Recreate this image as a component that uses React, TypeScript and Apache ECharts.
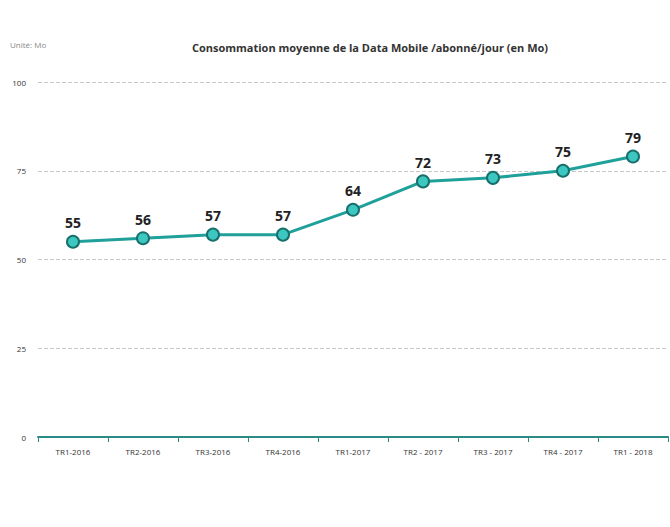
import React, { useEffect, useRef } from "react";
import * as echarts from "echarts";

const categories = [
  "TR1-2016",
  "TR2-2016",
  "TR3-2016",
  "TR4-2016",
  "TR1-2017",
  "TR2 - 2017",
  "TR3 - 2017",
  "TR4 - 2017",
  "TR1 - 2018",
];
const values = [55, 56, 57, 57, 64, 72, 73, 75, 79];
const title = "Consommation moyenne de la Data Mobile /abonné/jour (en Mo)";
const unitLabel = "Unité: Mo";

const FONT = "'Open Sans', 'Noto Sans', sans-serif";

export default function App() {
  const ref = useRef<HTMLDivElement>(null);
  useEffect(() => {
    if (!ref.current) return;
    const chart = echarts.init(ref.current, undefined, { renderer: "svg" });
    chart.setOption({
      animation: false,
      backgroundColor: "#ffffff",
      title: {
        text: title,
        left: 365,
        top: 37,
        textAlign: "center",
        textStyle: { fontFamily: FONT, fontSize: 11, fontWeight: "bold", color: "#333" },
      },
      graphic: [
        {
          type: "text",
          left: 10,
          top: 40,
          style: { text: unitLabel, fontFamily: FONT, fontSize: 8, fill: "#888" },
        },
      ],
      grid: { left: 38, right: 2, top: 82, bottom: 90 },
      xAxis: {
        type: "category",
        data: categories,
        boundaryGap: true,
        axisLine: { lineStyle: { color: "#2a8a86", width: 2 } },
        axisTick: { show: true, alignWithLabel: false, lineStyle: { color: "#2a8a86" } },
        axisLabel: { fontFamily: FONT, fontSize: 8, color: "#333", margin: 10 },
      },
      yAxis: {
        type: "value",
        min: 0,
        max: 100,
        interval: 25,
        axisLine: { show: false },
        axisTick: { show: false },
        axisLabel: { fontFamily: FONT, fontSize: 8, color: "#333", margin: 12 },
        splitLine: { lineStyle: { color: "#c8c8c8", type: "dashed", width: 1 } },
      },
      series: [
        {
          type: "line",
          data: values,
          symbol: "circle",
          symbolSize: 12,
          lineStyle: { color: "#1fa09a", width: 3 },
          itemStyle: { color: "#3cc8c0", borderColor: "#17706c", borderWidth: 2 },
          label: {
            show: true,
            position: "top",
            distance: 5,
            fontFamily: FONT,
            fontSize: 14,
            fontWeight: "bold",
            color: "#222",
          },
        },
      ],
    });
    return () => chart.dispose();
  }, []);
  return (
    <div
      ref={ref}
      style={{ position: "fixed", left: 0, top: 0, width: 670, height: 527, background: "#fff" }}
    />
  );
}
